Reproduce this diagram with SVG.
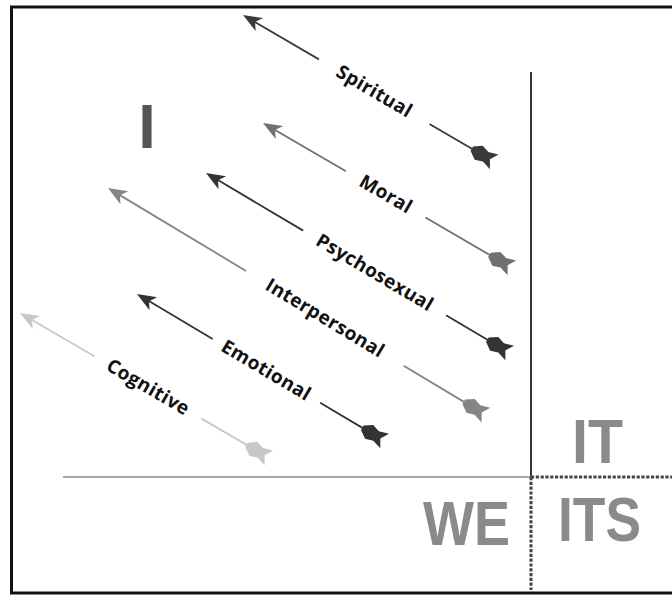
<svg xmlns="http://www.w3.org/2000/svg" xmlns:xlink="http://www.w3.org/1999/xlink" width="672" height="595" viewBox="0 0 672 595">
<style>
.lbl{font-family:"Open Sans","Liberation Sans",Arial,sans-serif;font-weight:bold;font-size:19px;letter-spacing:0.4px;fill:#111;text-anchor:middle}
.big{font-family:"Liberation Sans",Arial,sans-serif;font-weight:bold;font-size:63px;fill:#8a8a8a}
.shaft{stroke-width:1.8;fill:none}
</style>
<defs>
<path id="head" d="M0,0 L19,-7.5 L14,0 L19,7.5 Z"/>
<path id="tail" d="M-24,-2.5 L-16,-8 L-8,-5.5 L2,-8.5 L-3,0 L2,8.5 L-8,5.5 L-16,8 L-24,2.5 Z"/>
</defs>
<rect width="672" height="595" fill="#fff"/>
<path d="M676,7 H11.5 V593 H676" fill="none" stroke="#111" stroke-width="3"/>

<g id="axes">
<line x1="531" y1="72" x2="531" y2="477" stroke="#333" stroke-width="2"/>
<line x1="63" y1="477" x2="531" y2="477" stroke="#8a8a8a" stroke-width="1.6"/>
<line x1="531" y1="477" x2="531" y2="590" stroke="#444" stroke-width="3" stroke-dasharray="3.2,1.6"/>
<line x1="531" y1="477" x2="672" y2="477" stroke="#444" stroke-width="3" stroke-dasharray="3.2,1.6"/>
</g>

<g id="quadrant-I"><text x="147" y="148" class="big" style="fill:#555" text-anchor="middle">I</text></g>
<g id="quadrant-IT"><text x="572" y="463" class="big" textLength="51" lengthAdjust="spacingAndGlyphs">IT</text></g>
<g id="quadrant-WE"><text x="423" y="545" class="big" textLength="87" lengthAdjust="spacingAndGlyphs">WE</text></g>
<g id="quadrant-ITS"><text x="558" y="541" class="big" textLength="83" lengthAdjust="spacingAndGlyphs">ITS</text></g>

<g id="spiritual" transform="translate(243,15) rotate(30.3)" fill="#3a3a3a" stroke="#3a3a3a">
<line class="shaft" x1="8" y1="0" x2="88" y2="0"/><line class="shaft" x1="216" y1="0" x2="275" y2="0"/>
<use xlink:href="#head" stroke="none"/><use xlink:href="#tail" x="289" stroke="none"/>
<text class="lbl" x="152" y="6" stroke="none">Spiritual</text>
</g>
<g id="moral" transform="translate(263,123) rotate(30.2)" fill="#707070" stroke="#707070">
<line class="shaft" x1="8" y1="0" x2="96" y2="0"/><line class="shaft" x1="188" y1="0" x2="272" y2="0"/>
<use xlink:href="#head" stroke="none"/><use xlink:href="#tail" x="286" stroke="none"/>
<text class="lbl" x="142" y="6" stroke="none">Moral</text>
</g>
<g id="psychosexual" transform="translate(206,173) rotate(30.65)" fill="#333" stroke="#333">
<line class="shaft" x1="8" y1="0" x2="113" y2="0"/><line class="shaft" x1="279" y1="0" x2="337" y2="0"/>
<use xlink:href="#head" stroke="none"/><use xlink:href="#tail" x="351" stroke="none"/>
<text class="lbl" x="196" y="6" stroke="none">Psychosexual</text>
</g>
<g id="interpersonal" transform="translate(108,188) rotate(31)" fill="#858585" stroke="#858585">
<line class="shaft" x1="8" y1="0" x2="161" y2="0"/><line class="shaft" x1="345" y1="0" x2="425" y2="0"/>
<use xlink:href="#head" stroke="none"/><use xlink:href="#tail" x="439" stroke="none"/>
<text class="lbl" x="253" y="6" stroke="none">Interpersonal</text>
</g>
<g id="emotional" transform="translate(137,294) rotate(30.7)" fill="#333" stroke="#333">
<line class="shaft" x1="8" y1="0" x2="88" y2="0"/><line class="shaft" x1="213" y1="0" x2="272" y2="0"/>
<use xlink:href="#head" stroke="none"/><use xlink:href="#tail" x="286" stroke="none"/>
<text class="lbl" x="150" y="6" stroke="none">Emotional</text>
</g>
<g id="cognitive" transform="translate(20,313) rotate(30.2)" fill="#c8c8c8" stroke="#c8c8c8">
<line class="shaft" x1="8" y1="0" x2="86" y2="0"/><line class="shaft" x1="210" y1="0" x2="272" y2="0"/>
<use xlink:href="#head" stroke="none"/><use xlink:href="#tail" x="286" stroke="none"/>
<text class="lbl" x="148" y="6" stroke="none">Cognitive</text>
</g>
</svg>
